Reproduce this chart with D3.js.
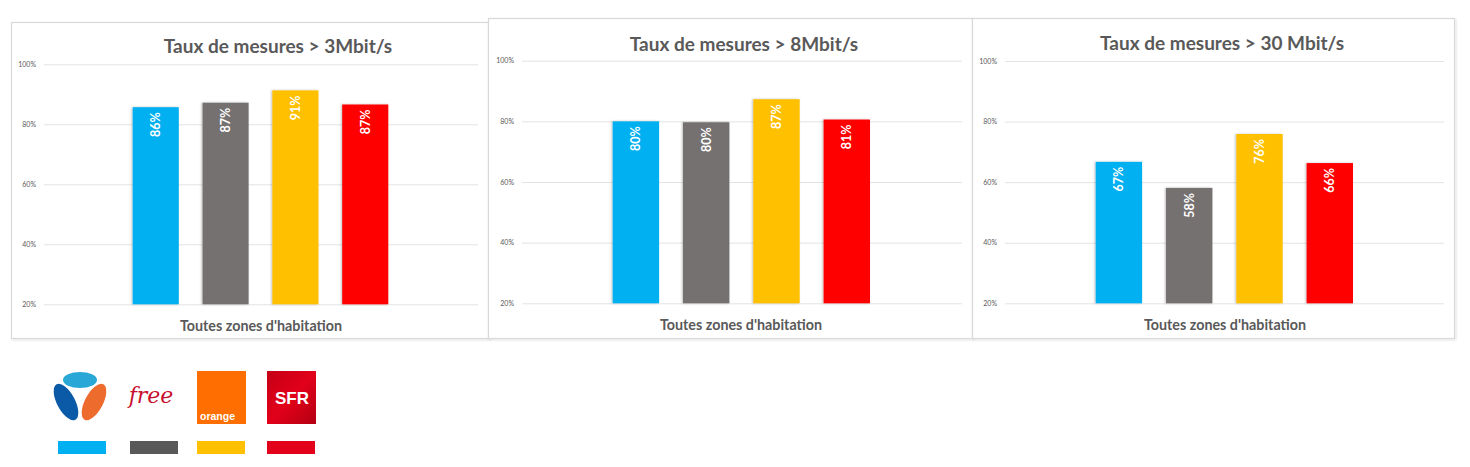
<!DOCTYPE html>
<html><head><meta charset="utf-8">
<script src="https://cdn.jsdelivr.net/npm/d3@7"></script>
<style>html,body{margin:0;padding:0;background:#fff;}svg{display:block;}</style>
</head><body>
<script>
const operators = ["Bouygues", "Free", "Orange", "SFR"];
const colors = ["#00B0F0", "#767171", "#FFC000", "#FF0000"];
const swatchColors = ["#00B0F0", "#595959", "#FFC000", "#E2001A"];
const titles = ["Taux de mesures > 3Mbit/s", "Taux de mesures > 8Mbit/s", "Taux de mesures > 30 Mbit/s"];
const values3 = [85.7, 87.2, 91.3, 86.6];
const values8 = [80.0, 79.7, 87.3, 80.6];
const values30 = [66.7, 58.1, 75.9, 66.3];
const series = [values3, values8, values30];
const tickValues = [20, 40, 60, 80, 100];
const xLabel = "Toutes zones d'habitation";

const W = 1470, H = 467;
const svg = d3.select("body").append("svg").attr("width", W).attr("height", H);

const defs = svg.append("defs");
const f = defs.append("filter").attr("id", "sh").attr("x", "-20%").attr("y", "-5%").attr("width", "140%").attr("height", "110%");
f.append("feDropShadow").attr("dx", -1).attr("dy", 0).attr("stdDeviation", 1).attr("flood-color", "#000").attr("flood-opacity", 0.25);
const pf = defs.append("filter").attr("id", "psh").attr("x", "-2%").attr("y", "-2%").attr("width", "104%").attr("height", "104%");
pf.append("feDropShadow").attr("dx", 1).attr("dy", 1).attr("stdDeviation", 1).attr("flood-color", "#000").attr("flood-opacity", 0.15);

const FONT = "Lato, 'Liberation Sans', sans-serif";

// layout of each panel
const panels = [
  {x: 11, y: 22, w: 477, h: 316, gx0: 44, gx1: 478, y100: 64.3, y20: 304.3, b0: 132.7, b1: 388.3, tx: 278, ty: 45, lx: 261, ly: 325},
  {x: 488, y: 18, w: 484, h: 320, gx0: 522, gx1: 962, y100: 60.7, y20: 303.3, b0: 612.7, b1: 870, tx: 744, ty: 43, lx: 741, ly: 324},
  {x: 972, y: 18, w: 482, h: 320, gx0: 1005, gx1: 1444, y100: 61, y20: 303.3, b0: 1095.7, b1: 1353, tx: 1222, ty: 42, lx: 1225, ly: 324}
];

panels.forEach((p, i) => {
  const g = svg.append("g");
  g.append("rect").attr("x", p.x + 0.5).attr("y", p.y + 0.5).attr("width", p.w).attr("height", p.h)
    .attr("fill", "#fff").attr("stroke", "#d9d9d9").attr("stroke-width", 1.2).attr("filter", "url(#psh)");

  const y = d3.scaleLinear().domain([20, 100]).range([p.y20, p.y100]);
  const x = d3.scaleBand().domain(operators).range([p.b0, p.b1]).paddingInner(0.34).paddingOuter(0);

  // gridlines
  const grid = g.append("g").attr("transform", `translate(${p.gx0},0)`)
    .call(d3.axisLeft(y).tickValues(tickValues).tickSize(-(p.gx1 - p.gx0)).tickFormat(""));
  grid.select(".domain").remove();
  grid.selectAll("line").attr("stroke", "#e3e3e3").attr("stroke-width", 1);

  // tick labels
  const ax = g.append("g").attr("transform", `translate(${p.gx0},0)`)
    .call(d3.axisLeft(y).tickValues(tickValues).tickSize(0).tickPadding(8).tickFormat(d => d + "%"));
  ax.select(".domain").remove();
  ax.selectAll("text").attr("fill", "#595959").attr("font-family", FONT).attr("font-size", 7);

  // bars
  const vals = series[i];
  g.selectAll("rect.bar").data(operators).enter().append("rect").attr("class", "bar")
    .attr("x", d => x(d)).attr("width", x.bandwidth())
    .attr("y", (d, k) => y(vals[k])).attr("height", (d, k) => y(20) - y(vals[k]))
    .attr("fill", (d, k) => colors[k]).attr("filter", "url(#sh)");

  // labels
  g.selectAll("text.lbl").data(operators).enter().append("text").attr("class", "lbl")
    .attr("transform", (d, k) => `translate(${x(d) + x.bandwidth() / 2},${y(vals[k]) + 5}) rotate(-90)`)
    .attr("text-anchor", "end").attr("dominant-baseline", "central")
    .attr("fill", "#fff").attr("font-family", FONT).attr("font-weight", "bold").attr("font-size", 12.5)
    .text((d, k) => Math.round(vals[k]) + "%");

  // title
  g.append("text").attr("x", p.tx).attr("y", p.ty).attr("text-anchor", "middle").attr("dominant-baseline", "central")
    .attr("fill", "#595959").attr("font-family", FONT).attr("font-weight", "bold").attr("font-size", 19)
    .text(titles[i]);
  // x label
  g.append("text").attr("x", p.lx).attr("y", p.ly).attr("text-anchor", "middle").attr("dominant-baseline", "central")
    .attr("fill", "#595959").attr("font-family", FONT).attr("font-weight", "bold").attr("font-size", 14.3)
    .text(xLabel);
});

// legend logos
const lg = svg.append("g");
// Bouygues
lg.append("ellipse").attr("cx", 80).attr("cy", 380).attr("rx", 17).attr("ry", 8).attr("fill", "#29a8d8");
lg.append("ellipse").attr("cx", 66).attr("cy", 402).attr("rx", 9).attr("ry", 20).attr("transform", "rotate(-28,66,402)").attr("fill", "#0b5aa8");
lg.append("ellipse").attr("cx", 94).attr("cy", 402).attr("rx", 9).attr("ry", 20).attr("transform", "rotate(28,94,402)").attr("fill", "#ee6b2e");
// Free
lg.append("text").attr("x", 151).attr("y", 403).attr("text-anchor", "middle")
  .attr("font-family", "'DejaVu Serif', 'Liberation Serif', serif").attr("font-style", "italic").attr("font-size", 22)
  .attr("fill", "#c8102e").text("free");
// Orange
lg.append("rect").attr("x", 197).attr("y", 371).attr("width", 49).attr("height", 53).attr("fill", "#ff6e00");
lg.append("text").attr("x", 200).attr("y", 420).attr("font-family", "'Liberation Sans', Arial, sans-serif").attr("font-weight", "bold")
  .attr("font-size", 10.5).attr("fill", "#fff").text("orange");
// SFR
const sg = defs.append("linearGradient").attr("id", "sfr").attr("x1", 0).attr("y1", 0).attr("x2", 1).attr("y2", 1);
sg.append("stop").attr("offset", "0%").attr("stop-color", "#c40016");
sg.append("stop").attr("offset", "50%").attr("stop-color", "#e2001a");
sg.append("stop").attr("offset", "100%").attr("stop-color", "#b30012");
lg.append("rect").attr("x", 267).attr("y", 371).attr("width", 49).attr("height", 53).attr("fill", "url(#sfr)");
lg.append("text").attr("x", 292).attr("y", 398).attr("text-anchor", "middle").attr("dominant-baseline", "central")
  .attr("font-family", "'Liberation Sans', Arial, sans-serif").attr("font-weight", "bold").attr("font-size", 17).attr("fill", "#fff").text("SFR");

// swatches
const swX = [58, 130, 197, 267];
lg.selectAll("rect.sw").data(operators).enter().append("rect").attr("class", "sw")
  .attr("x", (d, k) => swX[k]).attr("y", 441).attr("width", 48).attr("height", 13)
  .attr("fill", (d, k) => swatchColors[k]);
</script>
</body></html>
